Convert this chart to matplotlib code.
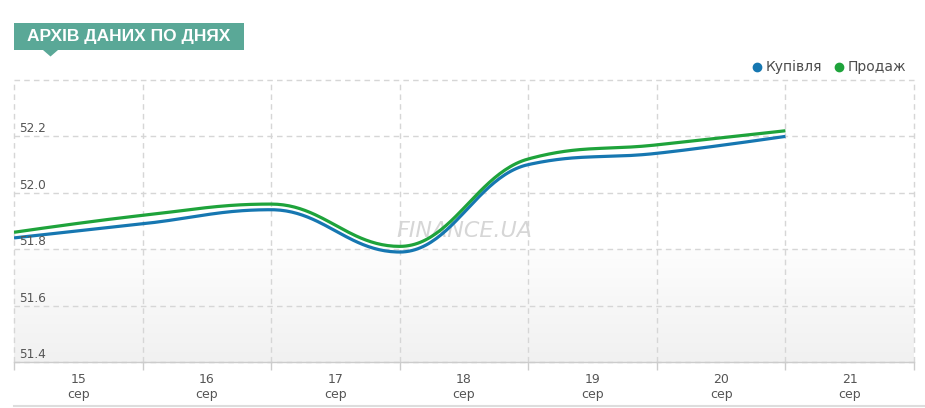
import numpy as np
import matplotlib
matplotlib.use("Agg")
import matplotlib.pyplot as plt
from matplotlib.lines import Line2D
from matplotlib.patches import Rectangle, Polygon
from matplotlib.colors import LinearSegmentedColormap

# ---- data ----
days = ["15", "16", "17", "18", "19", "20", "21"]
month = "сер"
buy = [51.84, 51.89, 51.94, 51.79, 52.10, 52.14, 52.20]
sell = [51.86, 51.92, 51.96, 51.81, 52.12, 52.17, 52.22]
series_names = ["Купівля", "Продаж"]
series_colors = ["#1677b1", "#1ea33b"]
title = "АРХІВ ДАНИХ ПО ДНЯХ"
ytick_vals = [51.4, 51.6, 51.8, 52.0, 52.2]
watermark = "FINANCE.UA"

W, H = 925, 408


def px(x, y):
    return (x / W, 1 - y / H)


def spline_path(xs, ys, smoothing=1.5, n=50):
    """Highcharts-like spline through points (bezier with smoothing)."""
    xs = np.asarray(xs, float)
    ys = np.asarray(ys, float)
    m = len(xs)
    denom = smoothing + 1
    lc = [(xs[i], ys[i]) for i in range(m)]
    rc = [(xs[i], ys[i]) for i in range(m)]
    for i in range(1, m - 1):
        px_, py_ = xs[i], ys[i]
        lx, ly = xs[i - 1], ys[i - 1]
        nx, ny = xs[i + 1], ys[i + 1]
        lcx = (smoothing * px_ + lx) / denom
        lcy = (smoothing * py_ + ly) / denom
        rcx = (smoothing * px_ + nx) / denom
        rcy = (smoothing * py_ + ny) / denom
        corr = 0.0
        if rcx != lcx:
            corr = (rcy - lcy) * (rcx - px_) / (rcx - lcx) + py_ - rcy
        lcy += corr
        rcy += corr
        if lcy > ly and lcy > py_:
            lcy = max(ly, py_)
            rcy = 2 * py_ - lcy
        elif lcy < ly and lcy < py_:
            lcy = min(ly, py_)
            rcy = 2 * py_ - lcy
        if rcy > ny and rcy > py_:
            rcy = max(ny, py_)
            lcy = 2 * py_ - rcy
        elif rcy < ny and rcy < py_:
            rcy = min(ny, py_)
            lcy = 2 * py_ - rcy
        lc[i] = (lcx, lcy)
        rc[i] = (rcx, rcy)
    t = np.linspace(0, 1, n)
    out_x, out_y = [], []
    for i in range(1, m):
        p0 = np.array([xs[i - 1], ys[i - 1]])
        c1 = np.array(rc[i - 1])
        c2 = np.array(lc[i])
        p3 = np.array([xs[i], ys[i]])
        b = ((1 - t) ** 3)[:, None] * p0 + (3 * (1 - t) ** 2 * t)[:, None] * c1 \
            + (3 * (1 - t) * t ** 2)[:, None] * c2 + (t ** 3)[:, None] * p3
        if i > 1:
            b = b[1:]
        out_x.extend(b[:, 0])
        out_y.extend(b[:, 1])
    return np.array(out_x), np.array(out_y)


fig = plt.figure(figsize=(W / 100, H / 100), dpi=100)
fig.patch.set_facecolor("white")

left, right, top, bottom = 14, 914, 80, 362
ax = fig.add_axes([left / W, (H - bottom) / H, (right - left) / W, (bottom - top) / H])
ax.set_facecolor("white")

ymin, ymax = 51.4, 52.4
ax.set_xlim(0, len(days))
ax.set_ylim(ymin, ymax)

# lower gradient band
grad = np.linspace(0, 1, 100)[:, None]
cmap = LinearSegmentedColormap.from_list("g", ["#f1f1f1", "#fdfdfd"])
ax.imshow(grad, extent=(0, len(days), ymin, 51.8), origin="lower", aspect="auto",
          cmap=cmap, zorder=0, interpolation="bicubic")

# grid
ax.set_yticks(np.round(np.arange(ymin, ymax + 0.001, 0.2), 1))
ax.set_xticks(range(len(days) + 1))
ax.grid(True, which="major", color="#d6d6d6", linestyle=(0, (4, 3)), linewidth=1, zorder=1)
for gl in ax.get_xgridlines() + ax.get_ygridlines():
    gl.set_clip_on(False)
ax.set_axisbelow(True)

ax.tick_params(axis="y", which="both", left=False, labelleft=False)
ax.tick_params(axis="x", which="major", length=6, color="#cccccc", width=1, labelbottom=False)
ax.set_xticks([i + 0.5 for i in range(len(days))], minor=True)
ax.set_xticklabels([f"{d}\n{month}" for d in days], minor=True)
ax.tick_params(axis="x", which="minor", length=0, pad=8, labelsize=9, labelcolor="#555555")
for lbl in ax.get_xticklabels(minor=True):
    lbl.set_linespacing(1.2)

for s in ["top", "left", "right"]:
    ax.spines[s].set_visible(False)
ax.spines["bottom"].set_color("#cccccc")
ax.spines["bottom"].set_linewidth(1)

# y labels inside
for v in ytick_vals:
    ax.annotate(f"{v:.1f}", xy=(0, v), xytext=(5, 4), textcoords="offset pixels",
                ha="left", va="baseline", fontsize=8.7, color="#555555", zorder=5)

# watermark
ax.text(0.5, 0.465, watermark, transform=ax.transAxes, ha="center", va="center",
        fontsize=16, style="italic", color="#d6d6d6", zorder=2, family="DejaVu Sans")

# series
xs = np.arange(len(days))
for vals, col in zip([buy, sell], series_colors):
    sx, sy = spline_path(xs, vals)
    ax.plot(sx, sy, color=col, linewidth=2.3, solid_capstyle="butt", zorder=4)

# legend
leg = [(757, 766, series_names[0], series_colors[0]), (839, 848, series_names[1], series_colors[1])]
for dx, tx, name, col in leg:
    fig.add_artist(Line2D([dx / W], [1 - 67 / H], transform=fig.transFigure, marker="o",
                          markersize=6, color=col, linestyle="none"))
    fig.text(tx / W, 1 - 67 / H, name, ha="left", va="center", fontsize=10, color="#4d4d4d")

# title box
x0, y0 = px(14, 50)
fig.add_artist(Rectangle((x0, y0), 230 / W, 27 / H, transform=fig.transFigure,
                         facecolor="#5aa897", edgecolor="none"))
fig.add_artist(Polygon([px(43, 50), px(58, 50), px(50.5, 56.5)], closed=True,
                       transform=fig.transFigure, facecolor="#5aa897", edgecolor="none"))
tx, ty = px(129, 37)
fig.text(tx, ty, title, ha="center", va="center", color="white", fontweight="bold",
         family="Liberation Sans", fontsize=12.5)

# bottom separator line
fig.add_artist(Line2D([14 / W, 1.0], [1 - 406 / H, 1 - 406 / H], transform=fig.transFigure,
                      color="#dddddd", linewidth=1.5))

fig.savefig("out.png", dpi=100, facecolor="white")
